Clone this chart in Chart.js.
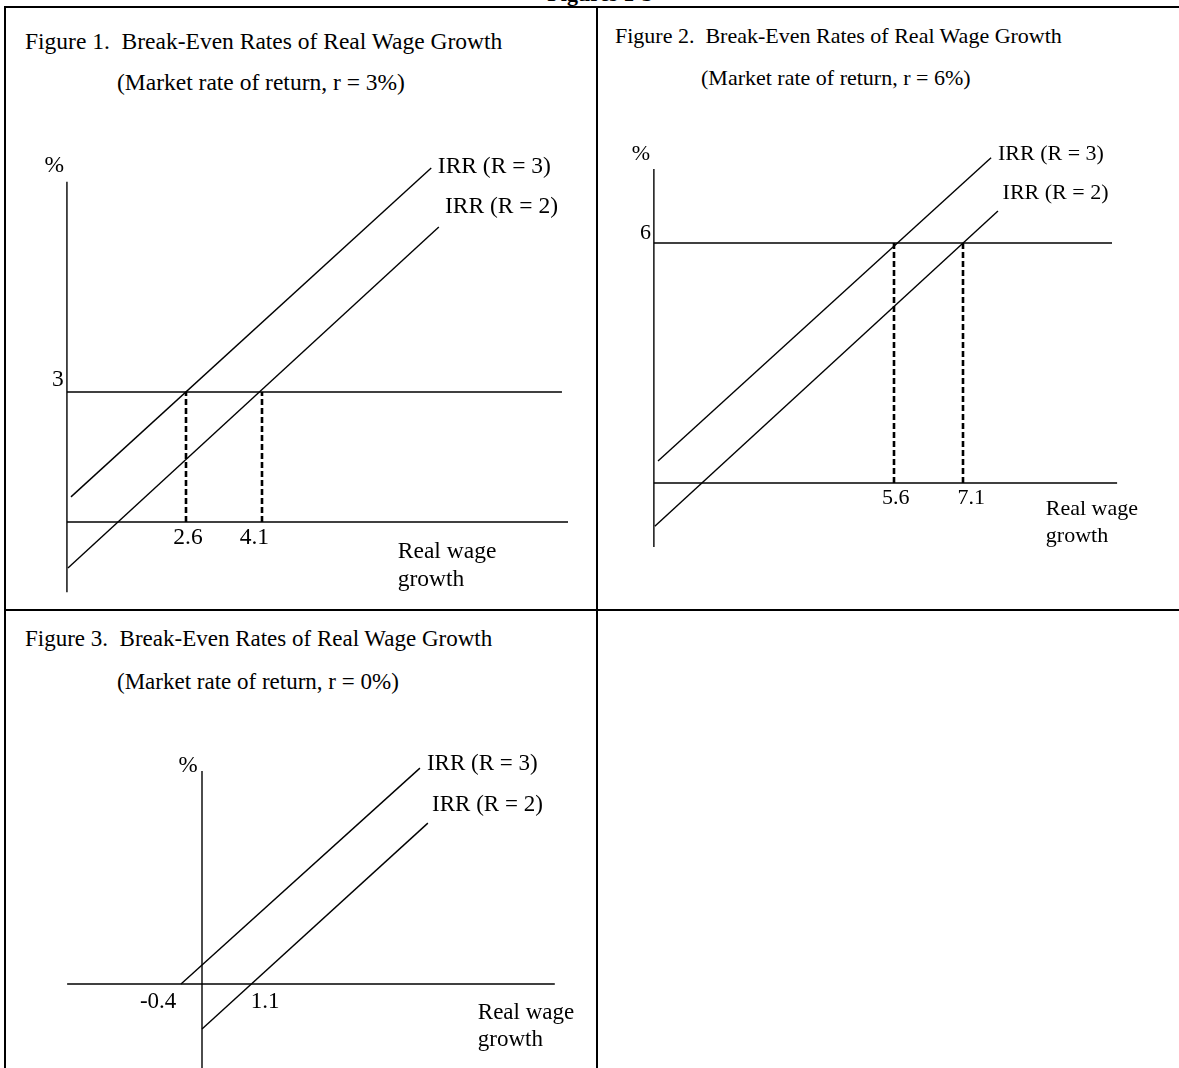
<!DOCTYPE html>
<html>
<head>
<meta charset="utf-8">
<title>Figures 1-3</title>
<script src="https://cdn.jsdelivr.net/npm/chart.js@4.4.1/dist/chart.umd.min.js"></script>
<style>
  body { margin: 0; background: #fff; width: 1179px; height: 1068px; position: relative; overflow: hidden;
         font-family: "Liberation Serif", "Times New Roman", serif; color: #000; }
  .rule { position: absolute; background: #000; }
  .txt { position: absolute; white-space: pre; line-height: 24px; }
  canvas { position: absolute; }
</style>
</head>
<body>
<div class="txt" style="left:450px; width:300px; top:-18px; text-align:center; font-weight:bold; font-size:22px;">Figures 1-3</div>

<div class="rule" style="left:4px; top:6px; width:1175px; height:2px;"></div>
<div class="rule" style="left:4px; top:6px; width:2px; height:1062px;"></div>
<div class="rule" style="left:596px; top:6px; width:2px; height:1062px;"></div>
<div class="rule" style="left:4px; top:609px; width:1175px; height:2px;"></div>

<div class="txt" style="left:25px; top:29px; font-size:23.5px;">Figure 1.  Break-Even Rates of Real Wage Growth</div>
<div class="txt" style="left:117px; top:70px; font-size:23.5px;">(Market rate of return, r = 3%)</div>

<div class="txt" style="left:615px; top:24px; font-size:22px;">Figure 2.  Break-Even Rates of Real Wage Growth</div>
<div class="txt" style="left:701px; top:66px; font-size:22px;">(Market rate of return, r = 6%)</div>

<div class="txt" style="left:25px; top:627px; font-size:23px;">Figure 3.  Break-Even Rates of Real Wage Growth</div>
<div class="txt" style="left:117px; top:670px; font-size:23px;">(Market rate of return, r = 0%)</div>

<script>
// values
// x = real wage growth, y = %

// Figure 1 (r = 3%)
const fig1Rate = 3;
const fig1BreakEven = [2.6, 4.1];
const fig1BreakEvenLabels = ['2.6', '4.1'];
const fig1IrrR3 = [{ x: 0.33, y: 0.58 }, { x: 7.44, y: 8.17 }];
const fig1IrrR2 = [{ x: 0.27, y: -1.06 }, { x: 7.59, y: 6.81 }];
const fig1AxisAt = 0.25;
const fig1AxisX = [0.25, 10.14];
const fig1AxisY = [-1.62, 7.85];
const fig1RateEnd = 10.02;

// Figure 2 (r = 6%)
const fig2Rate = 6;
const fig2BreakEven = [5.6, 7.1];
const fig2BreakEvenLabels = ['5.6', '7.1'];
const fig2IrrR3 = [{ x: 0.47, y: 0.55 }, { x: 7.71, y: 8.13 }];
const fig2IrrR2 = [{ x: 0.40, y: -1.08 }, { x: 7.86, y: 6.80 }];
const fig2AxisAt = 0.38;
const fig2AxisX = [0.38, 10.45];
const fig2AxisY = [-1.6, 7.85];
const fig2RateEnd = 10.34;

// Figure 3 (r = 0%)
const fig3Rate = 0;
const fig3BreakEven = [-0.4, 1.1];
const fig3BreakEvenLabels = ['-0.4', '1.1'];
const fig3IrrR3 = [{ x: -0.4, y: 0 }, { x: 4.72, y: 5.14 }];
const fig3IrrR2 = [{ x: 0.05, y: -1.07 }, { x: 4.89, y: 3.83 }];
const fig3AxisAt = 0.05;
const fig3AxisX = [-2.84, 7.61];
const fig3AxisY = [-2.2, 5.07];
const fig3RateEnd = 7.61;

// turn two (value, pixel) anchors into a scale range covering the canvas
function scaleRange(anchors, start, size) {
  const [v1, p1] = anchors[0], [v2, p2] = anchors[1];
  const k = (p2 - p1) / (v2 - v1);
  const a = v1 + (start - p1) / k;
  const b = v1 + (start + size - p1) / k;
  return { min: Math.min(a, b), max: Math.max(a, b) };
}

function lineSet(points, dashed) {
  return {
    data: points,
    showLine: true,
    borderColor: '#000',
    borderWidth: dashed ? 2.6 : 1.4,
    borderDash: dashed ? [6, 3] : [],
    pointRadius: 0,
    pointHoverRadius: 0,
    fill: false,
    tension: 0
  };
}

function textPlugin(items, size) {
  return {
    id: 'figText',
    afterDatasetsDraw(chart) {
      const ctx = chart.ctx;
      const xs = chart.scales.x, ys = chart.scales.y;
      ctx.save();
      ctx.fillStyle = '#000';
      ctx.font = size + 'px "Liberation Serif", "Times New Roman", serif';
      ctx.textBaseline = 'middle';
      items.forEach(t => {
        ctx.textAlign = t.align || 'left';
        ctx.fillText(t.text, xs.getPixelForValue(t.x), ys.getPixelForValue(t.y));
      });
      ctx.restore();
    }
  };
}

function drawFigure(fig) {
  const canvas = document.createElement('canvas');
  canvas.width = fig.box.w;
  canvas.height = fig.box.h;
  canvas.style.left = fig.box.x + 'px';
  canvas.style.top = fig.box.y + 'px';
  document.body.appendChild(canvas);

  const datasets = [
    lineSet([{ x: fig.axisAt, y: fig.axisY[0] }, { x: fig.axisAt, y: fig.axisY[1] }]),
    lineSet([{ x: fig.axisX[0], y: 0 }, { x: fig.axisX[1], y: 0 }]),
    lineSet(fig.irr3),
    lineSet(fig.irr2)
  ];
  if (fig.rate !== 0) {
    datasets.push(lineSet([{ x: fig.axisAt, y: fig.rate }, { x: fig.rateEnd, y: fig.rate }]));
    fig.breakEven.forEach(b => {
      datasets.push(lineSet([{ x: b, y: 0 }, { x: b, y: fig.rate }], true));
    });
  }

  const xr = scaleRange(fig.anchorsX, fig.box.x, fig.box.w);
  const yr = scaleRange(fig.anchorsY, fig.box.y, fig.box.h);

  new Chart(canvas.getContext('2d'), {
    type: 'scatter',
    data: { datasets: datasets },
    options: {
      responsive: false,
      animation: false,
      devicePixelRatio: 1,
      layout: { padding: 0 },
      events: [],
      plugins: { legend: { display: false }, tooltip: { enabled: false } },
      scales: {
        x: { type: 'linear', display: false, min: xr.min, max: xr.max },
        y: { type: 'linear', display: false, min: yr.min, max: yr.max }
      }
    },
    plugins: [textPlugin(fig.labels, fig.fontSize)]
  });
}

drawFigure({
  box: { x: 6, y: 8, w: 590, h: 601 },
  anchorsX: [[2.6, 186], [4.1, 262]],
  anchorsY: [[0, 522], [3, 392]],
  rate: fig1Rate, rateEnd: fig1RateEnd, breakEven: fig1BreakEven,
  irr3: fig1IrrR3, irr2: fig1IrrR2,
  axisAt: fig1AxisAt, axisX: fig1AxisX, axisY: fig1AxisY,
  fontSize: 23.5,
  labels: [
    { text: '%', x: 0.0, y: 8.22, align: 'center' },
    { text: String(fig1Rate), x: 0.07, y: 3.28, align: 'center' },
    { text: fig1BreakEvenLabels[0], x: 2.64, y: -0.37, align: 'center' },
    { text: fig1BreakEvenLabels[1], x: 3.95, y: -0.37, align: 'center' },
    { text: 'IRR (R = 3)', x: 7.57, y: 8.19 },
    { text: 'IRR (R = 2)', x: 7.71, y: 7.27 },
    { text: 'Real wage', x: 6.78, y: -0.69 },
    { text: 'growth', x: 6.78, y: -1.34 }
  ]
});

drawFigure({
  box: { x: 598, y: 8, w: 581, h: 601 },
  anchorsX: [[5.6, 894], [7.1, 963]],
  anchorsY: [[0, 483], [6, 243]],
  rate: fig2Rate, rateEnd: fig2RateEnd, breakEven: fig2BreakEven,
  irr3: fig2IrrR3, irr2: fig2IrrR2,
  axisAt: fig2AxisAt, axisX: fig2AxisX, axisY: fig2AxisY,
  fontSize: 22,
  labels: [
    { text: '%', x: 0.10, y: 8.22, align: 'center' },
    { text: String(fig2Rate), x: 0.20, y: 6.25, align: 'center' },
    { text: fig2BreakEvenLabels[0], x: 5.64, y: -0.375, align: 'center' },
    { text: fig2BreakEvenLabels[1], x: 7.28, y: -0.375, align: 'center' },
    { text: 'IRR (R = 3)', x: 7.86, y: 8.22 },
    { text: 'IRR (R = 2)', x: 7.96, y: 7.25 },
    { text: 'Real wage', x: 8.9, y: -0.65 },
    { text: 'growth', x: 8.9, y: -1.33 }
  ]
});

drawFigure({
  box: { x: 6, y: 611, w: 590, h: 457 },
  anchorsX: [[-0.4, 181], [1.1, 251]],
  anchorsY: [[0, 984], [1, 942]],
  rate: fig3Rate, rateEnd: fig3RateEnd, breakEven: fig3BreakEven,
  irr3: fig3IrrR3, irr2: fig3IrrR2,
  axisAt: fig3AxisAt, axisX: fig3AxisX, axisY: fig3AxisY,
  fontSize: 23,
  labels: [
    { text: '%', x: -0.25, y: 5.19, align: 'center' },
    { text: fig3BreakEvenLabels[0], x: -0.89, y: -0.43, align: 'center' },
    { text: fig3BreakEvenLabels[1], x: 1.40, y: -0.43, align: 'center' },
    { text: 'IRR (R = 3)', x: 4.87, y: 5.24 },
    { text: 'IRR (R = 2)', x: 4.98, y: 4.26 },
    { text: 'Real wage', x: 5.96, y: -0.69 },
    { text: 'growth', x: 5.96, y: -1.33 }
  ]
});
</script>
</body>
</html>
